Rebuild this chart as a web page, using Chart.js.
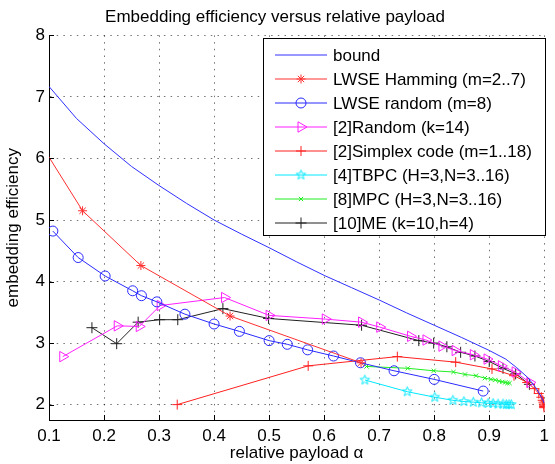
<!DOCTYPE html>
<html>
<head>
<meta charset="utf-8">
<script src="https://cdn.jsdelivr.net/npm/chart.js@4/dist/chart.umd.min.js"></script>
<style>
  html, body { margin: 0; padding: 0; background: #fff; }
  #wrap { width: 555px; height: 464px; }
</style>
</head>
<body>
<div id="wrap"><canvas id="chart" width="555" height="464"></canvas></div>
<script>
// values
const xTicks = [0.1, 0.2, 0.3, 0.4, 0.5, 0.6, 0.7, 0.8, 0.9, 1];
const yTicks = [2, 3, 4, 5, 6, 7, 8];

const boundX = [0.1, 0.15, 0.2, 0.25, 0.3, 0.35, 0.4, 0.45, 0.5, 0.55, 0.6, 0.65, 0.7, 0.75, 0.8, 0.85, 0.9, 0.93, 0.95, 0.97, 0.985, 0.995, 1.0];
const boundY = [7.17, 6.65, 6.24, 5.87, 5.56, 5.27, 5.0, 4.77, 4.55, 4.32, 4.1, 3.9, 3.7, 3.49, 3.29, 3.09, 2.88, 2.74, 2.6, 2.44, 2.27, 2.12, 2.02];

const hamX = [0.0952, 0.161, 0.267, 0.429, 0.667];
const hamY = [6.09, 5.15, 4.26, 3.44, 2.68];

const rndX = [0.107, 0.153, 0.202, 0.252, 0.268, 0.296, 0.347, 0.400, 0.446, 0.500, 0.533, 0.570, 0.617, 0.666, 0.727, 0.800, 0.889];
const rndY = [4.82, 4.39, 4.09, 3.85, 3.77, 3.67, 3.47, 3.31, 3.19, 3.04, 2.98, 2.89, 2.79, 2.68, 2.55, 2.41, 2.22];

const r2X = [0.125, 0.224, 0.264, 0.302, 0.419, 0.500, 0.602, 0.668, 0.701, 0.757, 0.785, 0.814, 0.838, 0.871, 0.896, 0.922, 0.947, 0.974];
const r2Y = [2.78, 3.28, 3.27, 3.61, 3.74, 3.45, 3.39, 3.34, 3.26, 3.11, 3.05, 2.95, 2.88, 2.81, 2.74, 2.63, 2.53, 2.36];

const simX = [0.333, 0.571, 0.733, 0.839, 0.905, 0.945, 0.969, 0.982, 0.990, 0.9946, 0.9971, 0.9985, 0.9992, 0.9996, 0.9998, 0.9999, 1.0];
const simY = [2.0, 2.63, 2.78, 2.69, 2.58, 2.47, 2.36, 2.26, 2.18, 2.12, 2.07, 2.04, 2.01, 1.99, 1.97, 1.96, 1.95];

const tbpcX = [0.674, 0.751, 0.801, 0.834, 0.854, 0.871, 0.886, 0.898, 0.907, 0.916, 0.925, 0.931, 0.936, 0.940];
const tbpcY = [2.40, 2.21, 2.12, 2.07, 2.05, 2.04, 2.03, 2.02, 2.02, 2.01, 2.01, 2.00, 2.00, 2.00];

const mpcX = [0.677, 0.752, 0.799, 0.835, 0.856, 0.876, 0.892, 0.903, 0.911, 0.918, 0.924, 0.929, 0.933, 0.937];
const mpcY = [2.62, 2.59, 2.55, 2.53, 2.49, 2.47, 2.43, 2.41, 2.40, 2.38, 2.37, 2.36, 2.35, 2.35];

const meX = [0.178, 0.223, 0.262, 0.301, 0.334, 0.416, 0.499, 0.668, 0.772, 0.799, 0.823, 0.848, 0.874, 0.900, 0.925, 0.948, 0.973];
const meY = [3.25, 2.99, 3.34, 3.38, 3.38, 3.56, 3.40, 3.29, 3.04, 3.00, 2.94, 2.85, 2.79, 2.70, 2.59, 2.50, 2.33];

const FONT = "'Liberation Sans', Arial, Helvetica, sans-serif";

const pts = (xs, ys) => xs.map((x, i) => ({ x: x, y: ys[i] }));

// matlab-like five point star, drawn once and used as an image point style
function pentagram(r, color) {
    const s = Math.ceil(r * 2 + 3);
    const c = document.createElement('canvas');
    c.width = s; c.height = s;
    const g = c.getContext('2d');
    g.strokeStyle = color;
    g.lineWidth = 1;
    g.beginPath();
    for (let i = 0; i < 10; i++) {
        const a = -Math.PI / 2 + i * Math.PI / 5;
        const rr = i % 2 ? r * 0.42 : r;
        const px = s / 2 + rr * Math.cos(a), py = s / 2 + rr * Math.sin(a);
        if (i === 0) g.moveTo(px, py); else g.lineTo(px, py);
    }
    g.closePath();
    g.stroke();
    return c;
}
const cyanStar = pentagram(5, '#00e8ff');

function series(label, xs, ys, color, style, radius, extra) {
    return Object.assign({
        label: label,
        data: pts(xs, ys),
        borderColor: color,
        backgroundColor: 'rgba(0,0,0,0)',
        pointBorderColor: color,
        pointBackgroundColor: 'rgba(0,0,0,0)',
        borderWidth: 1,
        pointBorderWidth: 1,
        pointStyle: style,
        pointRadius: radius,
        markerSize: radius,
        showLine: true,
        tension: 0
    }, extra || {});
}

const datasets = [
    series('bound', boundX, boundY, '#3030ff', false, 0),
    series('LWSE Hamming (m=2..7)', hamX, hamY, '#ff3030', 'star', 4.5,
        { pointRadius: c => (hamX[c.dataIndex] < 0.1 ? 0 : 4.5) }),
    series('LWSE random (m=8)', rndX, rndY, '#2a2aff', 'circle', 5),
    series('[2]Random (k=14)', r2X, r2Y, '#ff20ff', 'triangle', 6, { pointRotation: 90 }),
    series('[2]Simplex code (m=1..18)', simX, simY, '#ff2020', 'cross', 5),
    series('[4]TBPC (H=3,N=3..16)', tbpcX, tbpcY, '#00e8ff', cyanStar, 5),
    series('[8]MPC (H=3,N=3..16)', mpcX, mpcY, '#20ee20', 'crossRot', 3),
    series('[10]ME (k=10,h=4)', meX, meY, '#202020', 'cross', 5.5)
];

// legend drawn inside the axes like matlab does it
const legendBox = {
    id: 'legendBox',
    afterDatasetsDraw(chart) {
        const ctx = chart.ctx;
        ctx.save();
        ctx.fillStyle = '#fff';
        ctx.fillRect(263.5, 38.5, 282, 197);
        ctx.strokeStyle = '#000';
        ctx.lineWidth = 1;
        ctx.strokeRect(263.5, 38.5, 282, 197);
        chart.data.datasets.forEach((ds, i) => {
            const y = 55 + i * 24;
            ctx.strokeStyle = ds.borderColor;
            ctx.lineWidth = 1;
            ctx.beginPath();
            ctx.moveTo(275, y);
            ctx.lineTo(327, y);
            ctx.stroke();
            if (ds.pointStyle) {
                ctx.fillStyle = 'rgba(0,0,0,0)';
                Chart.helpers.drawPoint(ctx, {
                    pointStyle: ds.pointStyle,
                    rotation: ds.pointRotation || 0,
                    radius: ds.markerSize,
                    borderWidth: 1
                }, 301, y);
            }
            ctx.fillStyle = '#000';
            ctx.font = '17px ' + FONT;
            ctx.textBaseline = 'middle';
            ctx.textAlign = 'left';
            ctx.fillText(ds.label, 333, y + 1);
        });
        ctx.restore();
    }
};

// short tick marks pointing into the plot
const innerTicks = {
    id: 'innerTicks',
    afterDraw(chart) {
        const { ctx, chartArea: a, scales: { x, y } } = chart;
        ctx.save();
        ctx.strokeStyle = '#000';
        ctx.lineWidth = 1;
        ctx.beginPath();
        xTicks.forEach(v => {
            const px = Math.round(x.getPixelForValue(v)) + 0.5;
            ctx.moveTo(px, a.bottom);
            ctx.lineTo(px, a.bottom - 5);
        });
        yTicks.forEach(v => {
            const py = Math.round(y.getPixelForValue(v)) + 0.5;
            ctx.moveTo(a.left, py);
            ctx.lineTo(a.left + 5, py);
        });
        ctx.stroke();
        ctx.restore();
    }
};

const gridStyle = { color: 'rgba(0,0,0,0.55)', lineWidth: 1, drawTicks: false };
const borderStyle = { display: true, color: '#000', width: 1, dash: [1.5, 5.2] };

new Chart(document.getElementById('chart'), {
    type: 'scatter',
    data: { datasets: datasets },
    options: {
        responsive: false,
        animation: false,
        layout: { padding: { right: 5 } },
        plugins: {
            legend: { display: false },
            tooltip: { enabled: false },
            title: {
                display: true,
                text: 'Embedding efficiency versus relative payload',
                color: '#000',
                font: { family: FONT, size: 17, weight: 'normal' },
                padding: { top: 7, bottom: 8 }
            }
        },
        scales: {
            x: {
                type: 'linear',
                min: 0.1,
                max: 1,
                afterBuildTicks: s => { s.ticks = xTicks.map(v => ({ value: v })); },
                afterFit: s => { s.height = 44; },
                ticks: {
                    color: '#000',
                    padding: 6,
                    maxRotation: 0,
                    font: { family: FONT, size: 17 },
                    callback: v => String(v)
                },
                grid: gridStyle,
                border: borderStyle,
                title: {
                    display: true,
                    text: 'relative payload α',
                    color: '#000',
                    font: { family: FONT, size: 17 },
                    padding: { top: 0, bottom: 0 }
                }
            },
            y: {
                type: 'linear',
                min: 1.75,
                max: 8,
                afterBuildTicks: s => { s.ticks = yTicks.map(v => ({ value: v })); },
                afterFit: s => { s.width = 49; },
                ticks: {
                    color: '#000',
                    padding: 4,
                    font: { family: FONT, size: 17 },
                    callback: v => String(v)
                },
                grid: gridStyle,
                border: borderStyle,
                title: {
                    display: true,
                    text: 'embedding efficiency',
                    color: '#000',
                    font: { family: FONT, size: 17 },
                    padding: { top: 3, bottom: 0 }
                }
            }
        }
    },
    plugins: [legendBox, innerTicks]
});
</script>
</body>
</html>
